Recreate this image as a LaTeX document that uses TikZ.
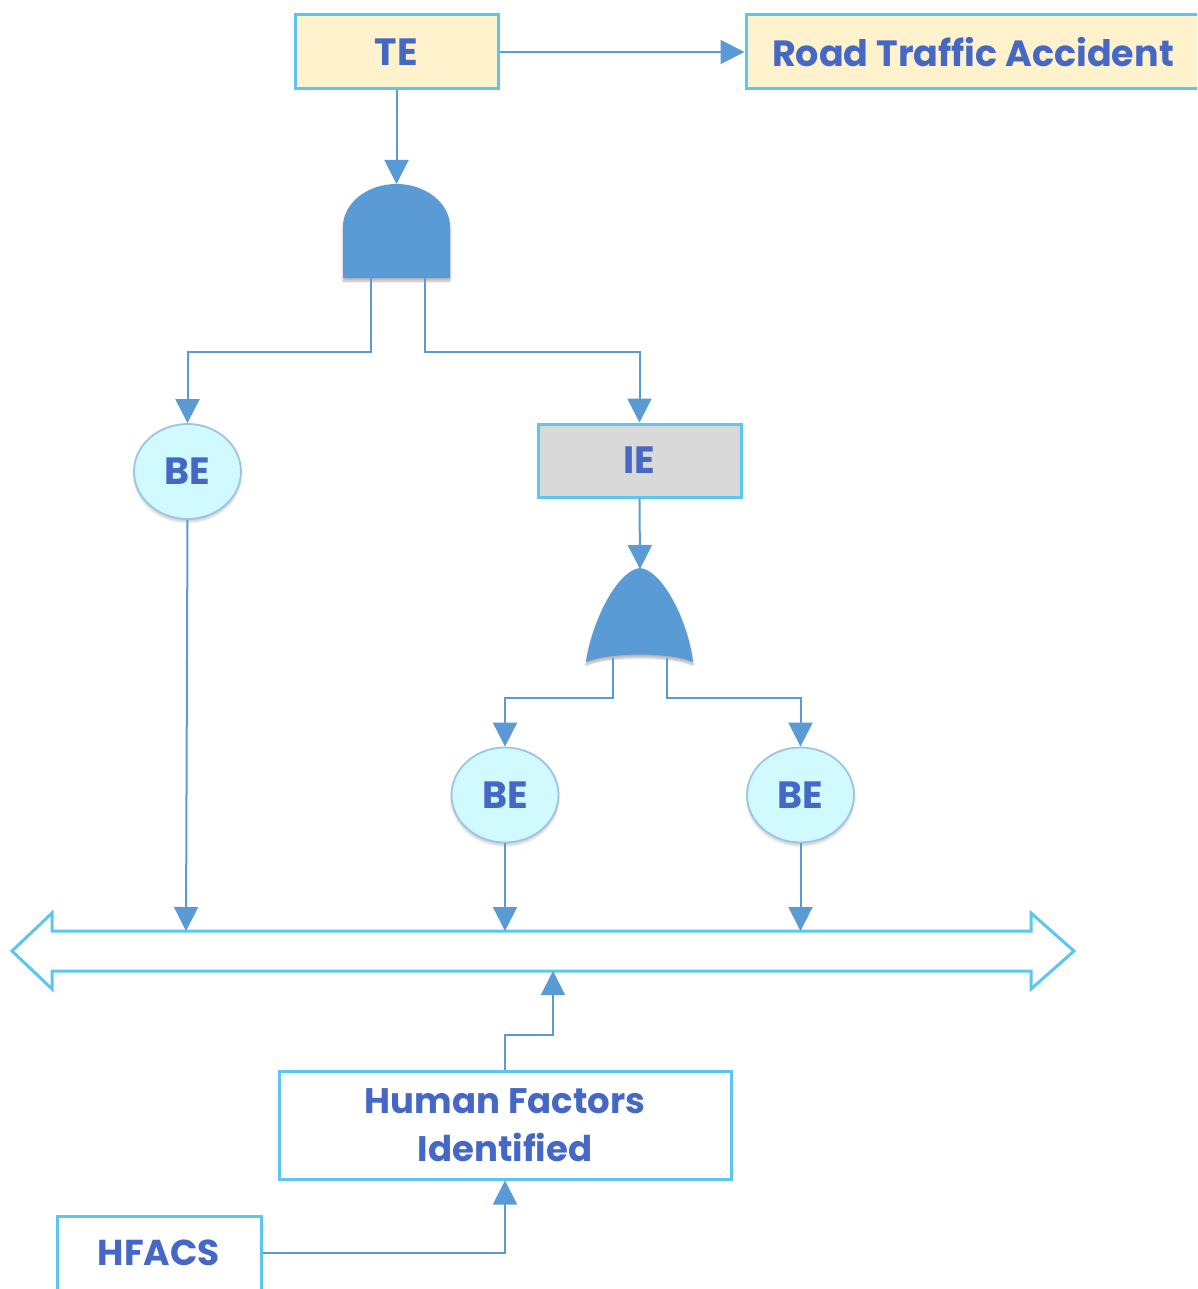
\documentclass[tikz,border=0pt]{standalone}
\usepackage{fontspec}
\setmainfont{Poppins}
\usetikzlibrary{arrows.meta,shapes.geometric,shadows.blur}
\definecolor{txtblue}{RGB}{68,104,196}
\definecolor{boxline}{RGB}{92,198,238}
\definecolor{connblue}{RGB}{91,155,213}
\definecolor{tefill}{RGB}{255,242,204}
\definecolor{iefill}{RGB}{217,217,217}
\definecolor{befill}{RGB}{208,250,255}
\definecolor{beline}{RGB}{157,195,230}
\definecolor{gatefill}{RGB}{91,155,213}
\tikzset{
  evbox/.style={draw=boxline, line width=3pt, inner sep=0pt, text=txtblue,
    font=\bfseries\fontsize{38}{42}\selectfont, align=center},
  beevent/.style={ellipse, draw=beline, line width=1.8pt, fill=befill,
    minimum width=107pt, minimum height=95pt, inner sep=0pt, text=txtblue,
    font=\bfseries\fontsize{38}{42}\selectfont,
    blur shadow={shadow blur steps=6, shadow xshift=0pt, shadow yshift=-3pt, shadow opacity=20}},
  conn/.style={draw=connblue, line width=2pt, -{Triangle[width=24pt,length=24pt]}},
  gate/.style={fill=gatefill,
    blur shadow={shadow blur steps=6, shadow xshift=0pt, shadow yshift=-3pt, shadow opacity=30}},
  busline/.style={draw=boxline, line width=3pt, fill=white, line join=miter}
}
\begin{document}
\begin{tikzpicture}[x=1pt,y=1pt]
\useasboundingbox (0,0) rectangle (1197,-1289);
\clip (0,0) rectangle (1197,-1289);

% events
\node[evbox, fill=tefill, minimum width=203pt, minimum height=74pt] (TE) at (396.5,-52) {TE};
\node[evbox, fill=tefill, minimum width=460pt, minimum height=74pt,
  font=\bfseries\fontsize{36.5}{40}\selectfont] (RTA) at (976,-52) {\hspace*{-6pt}Road Traffic Accident};
\node[evbox, fill=iefill, minimum width=203pt, minimum height=73pt] (IE) at (639.5,-460.5) {IE};
\node[beevent] (BEa) at (187.5,-471.5) {BE};
\node[beevent] (BEb) at (505,-795) {BE};
\node[beevent] (BEc) at (800.5,-795) {BE};
\node[evbox, fill=white, minimum width=452pt, minimum height=108pt,
  font=\bfseries\fontsize{35.5}{48}\selectfont] (HF) at (505,-1125) {Human Factors\\Identified};
\node[evbox, fill=white, minimum width=204pt, minimum height=74pt,
  font=\bfseries\fontsize{36}{40}\selectfont] (HFACS) at (159,-1253) {HFACS};

% AND gate
\path[gate] (343,-278) -- (343,-227) arc[start angle=180, end angle=0, x radius=53.5, y radius=43] -- (450,-278) -- cycle;
\coordinate (ANDin) at (396.5,-184);
\coordinate (ANDl) at (371,-278);
\coordinate (ANDr) at (425,-278);

% OR gate
\path[gate] (586,-662) .. controls (592,-620) and (618,-570) .. (640,-568)
  .. controls (662,-570) and (688,-620) .. (693,-662)
  .. controls (670,-652) and (610,-652) .. (586,-662) -- cycle;
\coordinate (ORin) at (640,-569);
\coordinate (ORl) at (613,-658);
\coordinate (ORr) at (667,-658);

% double-headed bus arrow
\path[busline] (12,-951) -- (52,-913) -- (52,-931) -- (1031,-931) -- (1031,-913)
  -- (1074,-951) -- (1031,-989) -- (1031,-971) -- (52,-971) -- (52,-989) -- cycle;
\coordinate (busA) at (186,-931);
\coordinate (busB) at (505,-931);
\coordinate (busC) at (800.5,-931);
\coordinate (busIn) at (553,-971);

% connectors
\draw[conn] (TE.east) -- (RTA.west);
\draw[conn] (TE.south) -- (ANDin);
\draw[conn] (ANDl) -- ++(0,-74) -| (BEa.north);
\draw[conn] (ANDr) -- ++(0,-74) -| (IE.north);
\draw[conn] (IE.south) -- (ORin);
\draw[conn] (ORl) -- ++(0,-40) -| (BEb.north);
\draw[conn] (ORr) -- ++(0,-40) -| (BEc.north);
\draw[conn] (BEa.south) -- (busA);
\draw[conn] (BEb.south) -- (busB);
\draw[conn] (BEc.south) -- (busC);
\draw[conn] (HF.north) -- ++(0,35) -| (busIn);
\draw[conn] (HFACS.east) -| (HF.south);
\end{tikzpicture}
\end{document}
